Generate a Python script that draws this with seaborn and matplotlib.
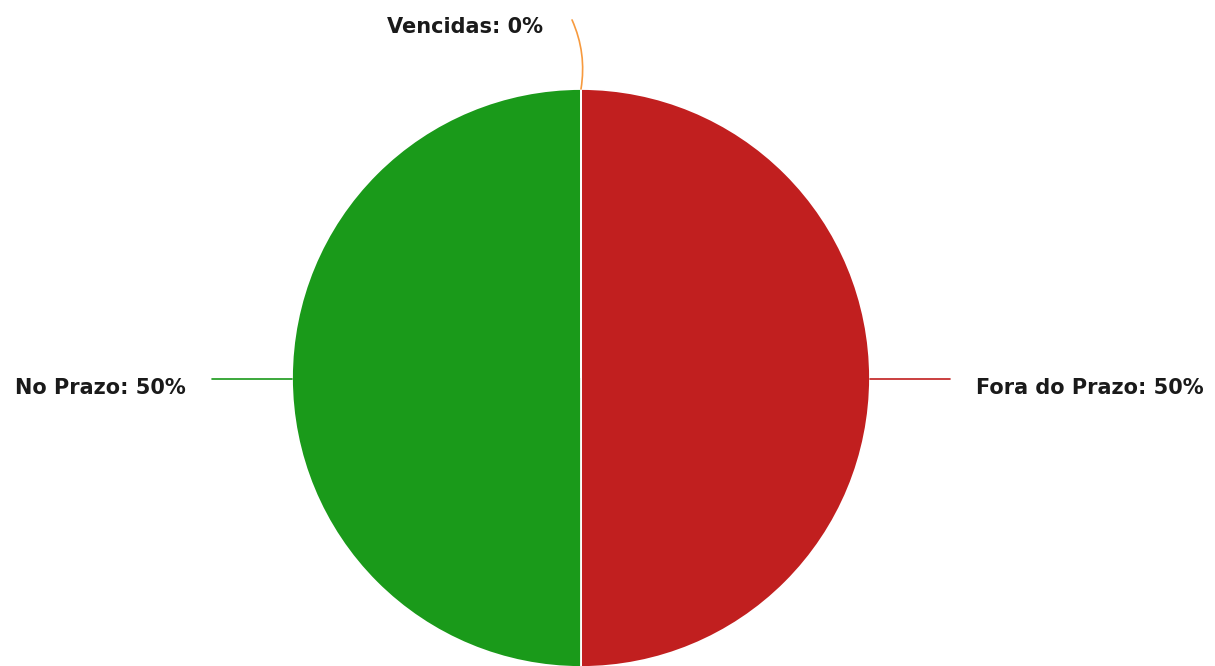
import matplotlib
matplotlib.use('Agg')
import matplotlib.pyplot as plt
import seaborn as sns
import numpy as np

# dados do grafico de setores
categorias = ['Fora do Prazo', 'No Prazo', 'Vencidas']
valores = [50, 50, 0]
cores = ['#c11f1f', '#1a9a1a', '#f79a3e']

sns.set_style('white')
plt.rcParams['font.family'] = ['DejaVu Sans']

fig = plt.figure(figsize=(12.15, 6.66), dpi=100)
ax = fig.add_axes([0, 0, 1, 1])

wedges, _ = ax.pie(valores, colors=cores, startangle=90, counterclock=False,
                   radius=1.0, wedgeprops=dict(edgecolor='white', linewidth=1.3))

total = sum(valores)
tam = 15
for w, nome, v, c in zip(wedges, categorias, valores, cores):
    ang = np.deg2rad((w.theta1 + w.theta2) / 2)
    x0, y0 = np.cos(ang), np.sin(ang)
    texto = f'{nome}: {v / total * 100:.0f}%'
    if abs(x0) < 0.1:
        # rotulo no topo (fatia zero)
        x1, y1 = x0 - 0.031, 1.239
        ax.annotate('', xy=(x0, y0), xytext=(x1, y1),
                    arrowprops=dict(arrowstyle='-', color=c, lw=1.2,
                                    connectionstyle='arc3,rad=-0.15',
                                    shrinkA=0, shrinkB=0))
        ax.text(x1 - 0.10, y1 - 0.024, texto, ha='right', va='center',
                fontsize=tam, fontweight='bold', color='#1a1a1a')
    else:
        s = np.sign(x0)
        x1 = 1.277 * s
        ax.plot([x0, x1], [y0 - 0.005, y0 - 0.005], color=c, lw=1.2)
        ax.text(x1 + 0.09 * s, y0 - 0.035, texto, ha='left' if s > 0 else 'right',
                va='center', fontsize=tam, fontweight='bold', color='#1a1a1a')

r = 289.0
ax.set_xlim(-581 / r, (1215 - 581) / r)
ax.set_ylim(-(666 - 378) / r, 378 / r)
ax.set_aspect('auto')
ax.axis('off')

fig.savefig('out.png', dpi=100)
